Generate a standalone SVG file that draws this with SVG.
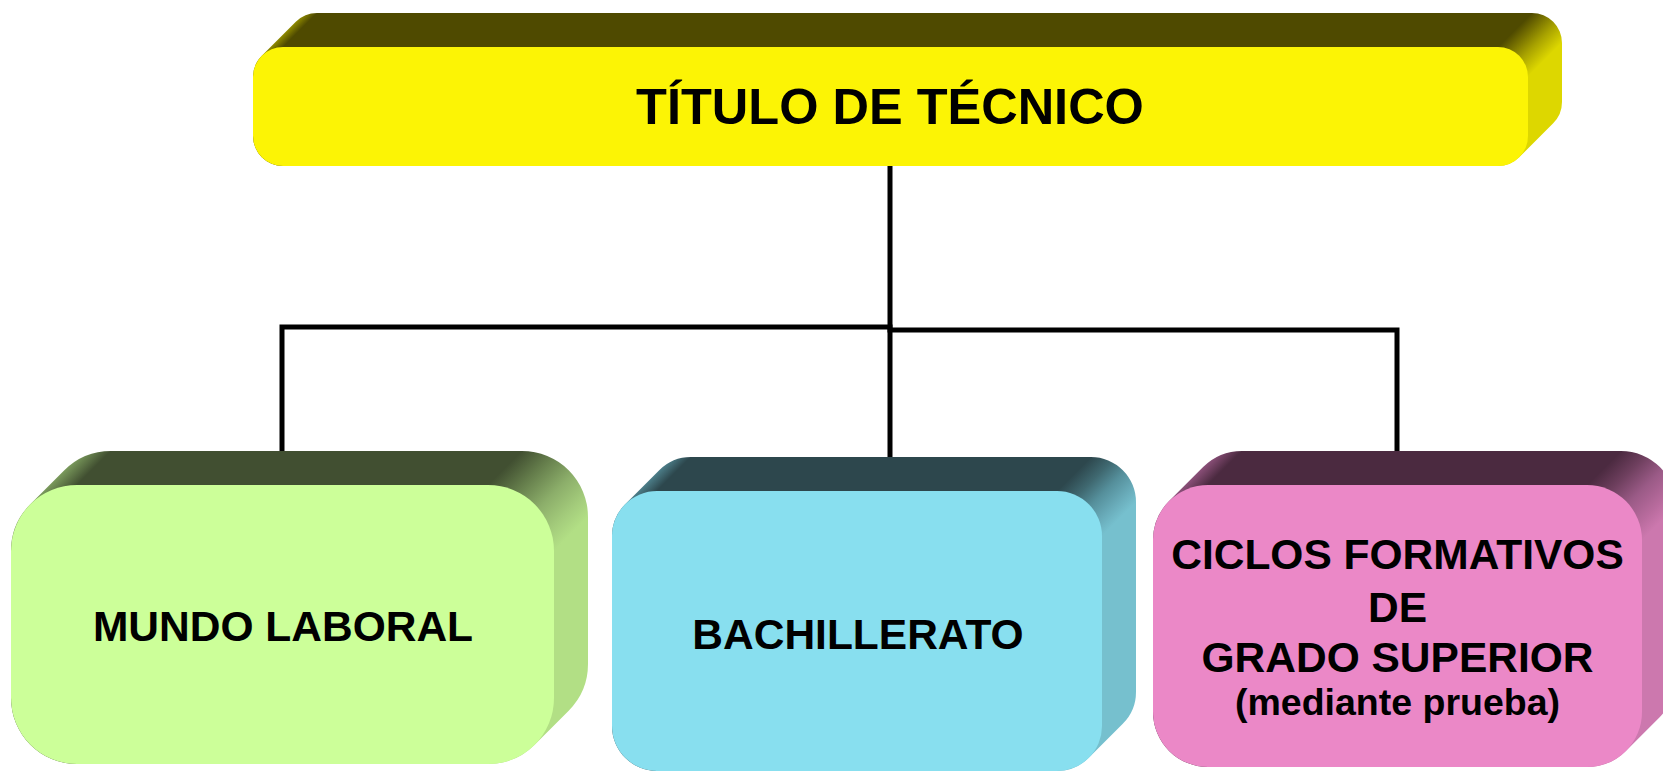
<svg xmlns="http://www.w3.org/2000/svg" width="1663" height="772" viewBox="0 0 1663 772">
<style>
.conn{fill:none;stroke:#000;stroke-width:5;stroke-linecap:square}
.t{font-family:"Liberation Sans",Arial,sans-serif;font-weight:bold;fill:#000;text-anchor:middle}
</style>
<defs>
<linearGradient id="gY" gradientUnits="userSpaceOnUse" x1="253" y1="47" x2="950" y2="744">
<stop offset="0" stop-color="#8F8A00"/><stop offset="0.0126" stop-color="#8F8A00"/><stop offset="0.0215" stop-color="#4F4A00"/>
<stop offset="0.893" stop-color="#4F4A00"/><stop offset="0.905" stop-color="#7A7400"/><stop offset="0.918" stop-color="#A8A200"/>
<stop offset="0.936" stop-color="#DDD700"/><stop offset="1" stop-color="#DDD700"/>
</linearGradient>
<linearGradient id="gG" gradientUnits="userSpaceOnUse" x1="11" y1="485" x2="422" y2="896">
<stop offset="0" stop-color="#7A9A5C"/><stop offset="0.047" stop-color="#7A9A5C"/><stop offset="0.08" stop-color="#414F31"/>
<stop offset="0.58" stop-color="#414F31"/><stop offset="0.62" stop-color="#637B4A"/><stop offset="0.67" stop-color="#8CAE6A"/>
<stop offset="0.71" stop-color="#A3CB7B"/><stop offset="0.741" stop-color="#B2DF85"/><stop offset="1" stop-color="#B2DF85"/>
</linearGradient>
<linearGradient id="gB" gradientUnits="userSpaceOnUse" x1="612" y1="491" x2="997" y2="876">
<stop offset="0" stop-color="#4D7F8A"/><stop offset="0.034" stop-color="#4D7F8A"/><stop offset="0.058" stop-color="#2D474D"/>
<stop offset="0.578" stop-color="#2D474D"/><stop offset="0.61" stop-color="#3F6870"/><stop offset="0.64" stop-color="#558F9B"/>
<stop offset="0.67" stop-color="#68AAB8"/><stop offset="0.695" stop-color="#76C0CE"/><stop offset="1" stop-color="#76C0CE"/>
</linearGradient>
<linearGradient id="gP" gradientUnits="userSpaceOnUse" x1="1153" y1="485" x2="1538.5" y2="870.5">
<stop offset="0" stop-color="#8A4F78"/><stop offset="0.042" stop-color="#8A4F78"/><stop offset="0.071" stop-color="#4B2A40"/>
<stop offset="0.563" stop-color="#4B2A40"/><stop offset="0.6" stop-color="#6E3F5E"/><stop offset="0.64" stop-color="#9A5A86"/>
<stop offset="0.68" stop-color="#B86B9D"/><stop offset="0.706" stop-color="#CC78AE"/><stop offset="1" stop-color="#CC78AE"/>
</linearGradient>
</defs>
<rect width="1663" height="772" fill="#fff"/>
<g id="connectors">
<path class="conn" d="M890 166 V457"/>
<path class="conn" d="M890 327 H282 V451"/>
<path class="conn" d="M890 330 H1397 V451"/>
</g>
<g id="titulo">
<path fill="url(#gY)" d="M261.8 55.8 L295.8 21.8 A30 30 0 0 1 317 13 L1532 13 A30 30 0 0 1 1562 43 L1562 102 A30 30 0 0 1 1553.2 123.2 L1519.2 157.2 A30 30 0 0 1 1498 166 L283 166 A30 30 0 0 1 253 136 L253 77 A30 30 0 0 1 261.8 55.8 Z"/>
<rect x="253" y="47" width="1275" height="119" rx="30" fill="#FCF405"/>
<text class="t" x="890" y="124" font-size="50.5">TÍTULO DE TÉCNICO</text>
</g>
<g id="mundo">
<path fill="url(#gG)" d="M30.3 504.3 L64.3 470.3 A66 66 0 0 1 111 451 L522 451 A66 66 0 0 1 588 517 L588 664 A66 66 0 0 1 568.7 710.7 L534.7 744.7 A66 66 0 0 1 488 764 L77 764 A66 66 0 0 1 11 698 L11 551 A66 66 0 0 1 30.3 504.3 Z"/>
<rect x="11" y="485" width="543" height="279" rx="66" fill="#CCFF99"/>
<text class="t" x="283" y="641" font-size="42.5">MUNDO LABORAL</text>
</g>
<g id="bachillerato">
<path fill="url(#gB)" d="M625.2 504.2 L659.2 470.2 A45 45 0 0 1 691 457 L1091 457 A45 45 0 0 1 1136 502 L1136 692 A45 45 0 0 1 1122.8 723.8 L1088.8 757.8 A45 45 0 0 1 1057 771 L657 771 A45 45 0 0 1 612 726 L612 536 A45 45 0 0 1 625.2 504.2 Z"/>
<rect x="612" y="491" width="490" height="280" rx="45" fill="#88DFEF"/>
<text class="t" x="858" y="649" font-size="42.5">BACHILLERATO</text>
</g>
<g id="ciclos">
<path fill="url(#gP)" d="M1169.1 501.1 L1203.1 467.1 A55 55 0 0 1 1242 451 L1621 451 A55 55 0 0 1 1676 506 L1676 678 A55 55 0 0 1 1659.9 716.9 L1625.9 750.9 A55 55 0 0 1 1587 767 L1208 767 A55 55 0 0 1 1153 712 L1153 540 A55 55 0 0 1 1169.1 501.1 Z"/>
<rect x="1153" y="485" width="489" height="282" rx="55" fill="#EB88C7"/>
<text class="t" x="1397.5" y="569" font-size="42.5">CICLOS FORMATIVOS</text>
<text class="t" x="1397.5" y="622" font-size="42.5">DE</text>
<text class="t" x="1397.5" y="672" font-size="42.5">GRADO SUPERIOR</text>
<text class="t" x="1397.5" y="715" font-size="37.5">(mediante prueba)</text>
</g>
</svg>
